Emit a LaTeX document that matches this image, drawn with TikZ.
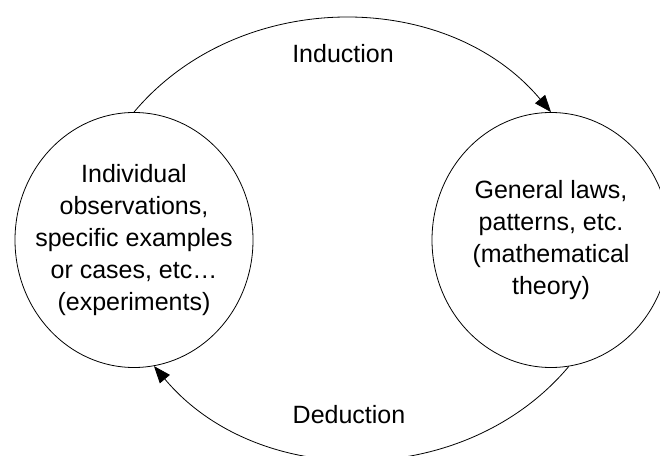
\documentclass[tikz,border=0pt]{standalone}
\usepackage{fontspec}
\setmainfont{Liberation Sans}
\usetikzlibrary{shapes.geometric,arrows.meta}
\begin{document}
\begin{tikzpicture}[x=1pt,y=1pt,
  blob/.style={draw, ellipse, line width=0.8pt, minimum width=238pt, minimum height=255pt, inner sep=0pt},
  body/.style={align=center, font=\fontsize{25}{32}\selectfont, inner sep=0pt},
  lbl/.style={font=\fontsize{25}{32}\selectfont, anchor=base, inner sep=0pt},
  flow/.style={line width=0.8pt, -{Triangle[length=17pt,width=13pt]}}]
\useasboundingbox (0,0) rectangle (660,455);
\clip (0,0) rectangle (660,455);
\node[blob] (L) at (134,215) {};
\node[blob] (R) at (551,215) {};
\node[body] (Lt) at (L.center) {Individual\\observations,\\specific examples\\or cases, etc…\\(experiments)};
\node[body] (Rt) at (R.center) {General laws,\\patterns, etc.\\(mathematical\\theory)};
\draw[flow] (L.north) to[bend left=50] (R.north);
\draw[flow] (R.-82) to[bend left=50] (L.-81.5);
\node[lbl] (ind) at (343,392) {Induction};
\node[lbl] (ded) at (349,32) {Deduction};
\end{tikzpicture}
\end{document}
